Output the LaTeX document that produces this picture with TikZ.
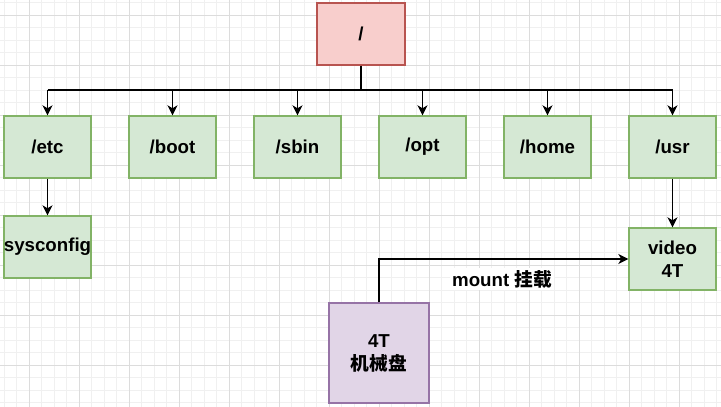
\documentclass[tikz,border=0pt]{standalone}
\usepackage{fontspec}
\setmainfont{Liberation Sans}
\newfontfamily\cjk{Noto Sans CJK SC}
\usetikzlibrary{arrows.meta}
\definecolor{redfill}{HTML}{F8CECC}
\definecolor{redline}{HTML}{B85450}
\definecolor{greenfill}{HTML}{D5E8D4}
\definecolor{greenline}{HTML}{82B366}
\definecolor{purplefill}{HTML}{E1D5E7}
\definecolor{purpleline}{HTML}{9673A6}
\definecolor{gridminor}{HTML}{F0F0F0}
\definecolor{gridmajor}{HTML}{DCDCDC}
\tikzset{
  box/.style={draw, line width=1.4pt, minimum width=87pt, minimum height=62pt,
    inner sep=0pt, align=center, font=\fontsize{18.7}{23}\selectfont\bfseries},
  dirbox/.style={box, fill=greenfill, draw=greenline},
  rootbox/.style={box, fill=redfill, draw=redline, minimum width=88pt},
  diskbox/.style={box, fill=purplefill, draw=purpleline, minimum width=100pt, minimum height=100pt},
  arr/.style={line width=1.4pt, -{Stealth[length=10pt,width=10pt,inset=3pt]}},
  conn/.style={line width=1.4pt},
  lbl/.style={fill=white, inner sep=2pt, font=\fontsize{18.7}{23}\selectfont\bfseries}
}
\begin{document}
\begin{tikzpicture}[x=1pt,y=-1pt]
\useasboundingbox[fill=white] (0,0) rectangle (721,407);
% grid
\foreach \i in {0,...,57} {
  \draw[gridminor, line width=1pt] ({4.3+12.5*\i},0) -- ({4.3+12.5*\i},407);
}
\foreach \i in {0,...,32} {
  \draw[gridminor, line width=1pt] (0,{2.5+12.5*\i}) -- (721,{2.5+12.5*\i});
}
\foreach \i in {0,...,14} {
  \draw[gridmajor, line width=1pt] ({29.3+50*\i},0) -- ({29.3+50*\i},407);
}
\foreach \i in {0,...,8} {
  \draw[gridmajor, line width=1pt] (0,{15+50*\i}) -- (721,{15+50*\i});
}
% nodes
\node[rootbox] (root) at (361,34) {/};
\node[dirbox] (etc) at (47.5,147) {/etc};
\node[dirbox] (boot) at (172.5,147) {/boot};
\node[dirbox] (sbin) at (297.5,147) {/sbin};
\node[dirbox] (opt) at (422.5,147) {/opt};
\node[dirbox] (home) at (547.5,147) {/home};
\node[dirbox] (usr) at (672.5,147) {/usr};
\node[dirbox] (sysconfig) at (47.5,247) {sysconfig};
\node[dirbox] (video) at (672.5,259) {video\\4T};
\node[diskbox] (disk) at (379,353) {4T\\{\cjk\bfseries 机械盘}};
% connectors
\coordinate (bus) at (361,90);
\draw[conn] (root.south) -- (bus);
\draw[conn] (bus -| etc.north) -- (bus -| usr.north);
\foreach \n in {etc,boot,sbin,opt,home,usr} {
  \draw[arr] (bus -| \n.north) -- (\n.north);
}
\draw[arr] (etc.south) -- (sysconfig.north);
\draw[arr] (usr.south) -- (video.north);
\draw[arr] (disk.north) |- (video.west);
\node[lbl] (mountlbl) at (502,279) {mount {\cjk\bfseries 挂载}};
\end{tikzpicture}
\end{document}
